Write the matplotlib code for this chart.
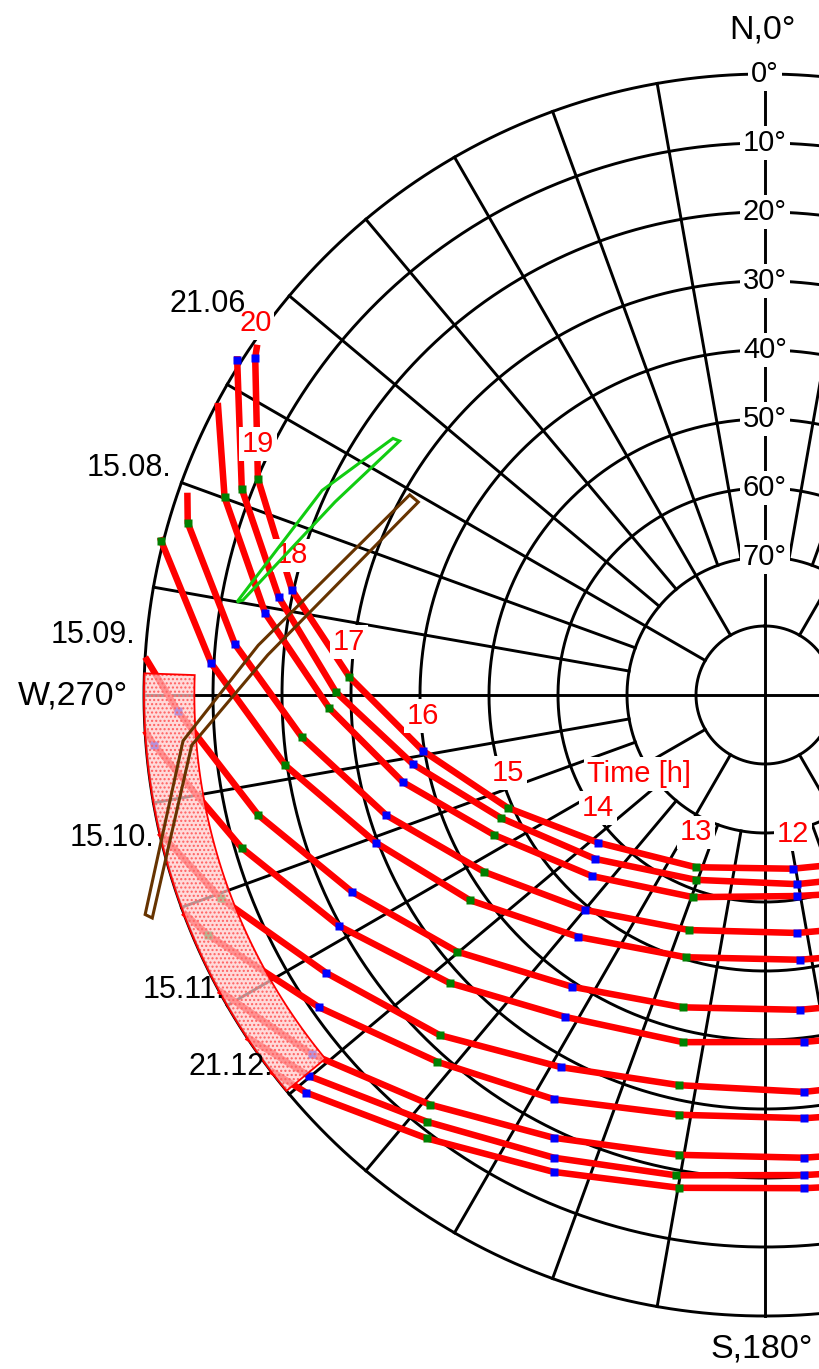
import numpy as np
import matplotlib
matplotlib.use('Agg')
import matplotlib.pyplot as plt

plt.rcParams['font.family'] = ['Liberation Sans', 'DejaVu Sans']

nan = np.nan
# full hours on the sun paths (11 h lies outside the visible part)
hours = [11, 12, 13, 14, 15, 16, 17, 18, 19, 20]

# sun azimuth (deg from N, clockwise) and altitude (deg) at each full hour
az_2106 = [142.1, 170.9, 201.9, 228.5, 246.3, 260.7, 272.5, 282.5, 293.1, 303.5]
alt_2106 = [59.9, 64.5, 63.1, 57.7, 49.3, 39.8, 29.7, 19.8, 10.1, 1.4]
az_1507 = [144.2, 170.4, 200.5, 226.0, 245.0, 258.9, 270.4, 281.4, 291.5, 302.4]
alt_1507 = [58.0, 62.2, 61.4, 55.8, 47.8, 38.0, 27.8, 18.1, 8.5, -0.6]
az_1505 = [145.9, 171.0, 199.6, 223.7, 242.7, 256.5, 268.3, 279.3, 290.1, nan]
alt_1505 = [55.8, 60.5, 58.9, 53.7, 45.8, 36.0, 26.8, 16.6, 6.6, nan]
az_1508 = [148.9, 172.3, 197.9, 219.9, 237.8, 252.4, 264.8, 275.5, 286.6, nan]
alt_1508 = [51.3, 55.2, 54.2, 49.4, 41.9, 32.4, 22.6, 12.8, 2.7, nan]
az_1504 = [150.7, 172.5, 196.8, 217.7, 235.2, 249.2, 261.7, 273.3, 284.3, nan]
alt_1504 = [47.5, 51.3, 50.3, 45.7, 37.9, 29.7, 19.7, 9.6, -0.3, nan]
az_1509 = [154.0, 173.7, 194.7, 213.5, 230.2, 244.5, 256.7, 268.4, nan, nan]
alt_1509 = [40.9, 44.1, 43.2, 39.3, 31.9, 23.7, 14.5, 4.9, nan, nan]
az_1503 = [155.6, 173.6, 193.3, 211.8, 227.6, 241.5, 253.7, 265.3, nan, nan]
alt_1503 = [36.4, 39.4, 38.3, 35.1, 28.1, 19.8, 11.0, 1.2, nan, nan]
az_1510 = [157.8, 174.4, 192.4, 208.7, 223.7, 237.7, 249.5, nan, nan, nan]
alt_1510 = [29.9, 32.2, 32.1, 28.5, 21.8, 14.7, 5.8, nan, nan, nan]
az_1502 = [158.8, 174.7, 191.6, 207.6, 221.8, 235.0, 246.7, nan, nan, nan]
alt_1502 = [25.5, 28.4, 27.9, 23.9, 18.7, 11.1, 2.1, nan, nan, nan]
az_1511 = [160.5, 175.2, 190.6, 205.5, 219.3, 231.6, nan, nan, nan, nan]
alt_1511 = [20.2, 22.7, 22.2, 18.9, 13.3, 6.2, nan, nan, nan, nan]
az_1501 = [161.1, 175.4, 190.5, 204.5, 218.4, 230.1, nan, nan, nan, nan]
alt_1501 = [17.5, 20.2, 19.2, 16.3, 11.1, 3.9, nan, nan, nan, nan]
az_2112 = [161.7, 175.5, 189.9, 203.9, 217.3, 229.1, nan, nan, nan, nan]
alt_2112 = [15.6, 18.3, 17.5, 14.4, 9.2, 2.0, nan, nan, nan, nan]

dates = ['21.06', '15.07', '15.05', '15.08', '15.04', '15.09',
         '15.03', '15.10', '15.02', '15.11', '15.01', '21.12']
paths_az = [az_2106, az_1507, az_1505, az_1508, az_1504, az_1509,
            az_1503, az_1510, az_1502, az_1511, az_1501, az_2112]
paths_alt = [alt_2106, alt_1507, alt_1505, alt_1508, alt_1504, alt_1509,
             alt_1503, alt_1510, alt_1502, alt_1511, alt_1501, alt_2112]
# end of each path at sunset
set_az = [304.6, 302.7, 298.1, 289.3, 284.6, 273.5, 266.7, 257.2, 249.5, 241.6, 236.6, 232.8]
set_alt = [0.6, -0.9, 0.1, 1.3, -0.6, 0.0, 0.0, 0.0, 0.0, 0.0, 0.0, 0.0]

date_labels = ['21.06', '15.08.', '15.09.', '15.10.', '15.11.', '21.12.']
date_label_px = [(246, 312), (171, 476), (135, 643), (154, 846), (225, 998), (273, 1075)]

ring_alt = [0, 10, 20, 30, 40, 50, 60, 70, 80]
alt_ticks = [0, 10, 20, 30, 40, 50, 60, 70]

# horizon obstruction (shaded), brown and green outlines
shade_az = [230.4, 272.0]
shade_alt = [0.0, 7.3]
brown_az = [250.5, 265.5, 275.6, 299.4, 299.1, 274.6, 265.0, 250.0]
brown_alt = [-5.3, 5.4, 16.2, 30.9, 32.5, 17.7, 6.6, -4.5]
green_az = [280.0, 294.8, 304.6, 304.8, 294.2, 280.3]
green_alt = [12.3, 19.3, 24.5, 25.5, 21.7, 13.1]

W, H = 819, 1369
cx, cy, R = 765, 695, 621

fig = plt.figure(figsize=(W / 100, H / 100), dpi=100)
ax = fig.add_axes([(cx - R) / W, (H - cy - R) / H, 2 * R / W, 2 * R / H],
                  projection='polar')
ax.set_theta_zero_location('N')
ax.set_theta_direction(-1)
ax.grid(False)
ax.set_xticks([])
ax.set_yticks([])
ax.spines['polar'].set_visible(False)
ax.patch.set_visible(False)


def px(x, y):
    return x / W, 1 - y / H


# grid: altitude rings, azimuth spokes (10 deg spokes stop at 70 deg, 30 deg ones at 80 deg)
t = np.linspace(0, 2 * np.pi, 1441)
for a in ring_alt:
    ax.plot(t, np.full_like(t, 90 - a), color='k', lw=2.1, clip_on=False, zorder=1)
for a in range(0, 360, 10):
    if a % 90 == 0:
        r0 = 0
    elif a % 30 == 0:
        r0 = 10
    else:
        r0 = 20
    ax.plot([np.radians(a)] * 2, [r0, 90], color='k', lw=2.1, clip_on=False, zorder=1)

for a in alt_ticks:
    ax.text(0, 90 - a, f'{a}°', ha='center', va='center', fontsize=21, zorder=3,
            bbox=dict(boxstyle='square,pad=0.1', fc='white', ec='none'))

# sun paths
for az, alt, eaz, ealt in zip(paths_az, paths_alt, set_az, set_alt):
    th = np.radians(np.array(az + [eaz]))
    r = 90 - np.array(alt + [ealt])
    ok = ~np.isnan(th)
    ax.plot(th[ok], r[ok], color='#ff0000', lw=4.7, solid_capstyle='butt',
            solid_joinstyle='miter', clip_on=False, zorder=4)
    for h, a, e in zip(hours, az, alt):
        if h < 12 or np.isnan(a):
            continue
        c = '#0000ff' if h % 2 == 0 else '#008000'
        ax.plot(np.radians(a), 90 - e, marker='s', ms=5.5, color=c, mec='none',
                clip_on=False, zorder=5)

# hour labels above the 21.06 path
for h, a, e in zip(hours, az_2106, alt_2106):
    if h < 12:
        continue
    ax.annotate(str(h), (np.radians(a), 90 - e), xytext=(0, 25), textcoords='offset points',
                ha='center', va='center', fontsize=21, color='#ff0000', zorder=6,
                bbox=dict(boxstyle='square,pad=0.1', fc='white', ec='none'),
                annotation_clip=False)
fig.text(*px(639, 774), 'Time [h]', ha='center', va='center', fontsize=21, color='#ff0000',
         zorder=6, bbox=dict(boxstyle='square,pad=0.1', fc='white', ec='none'))

for lab, (x, y) in zip(date_labels, date_label_px):
    fig.text(*px(x, y), lab, ha='right', va='baseline', fontsize=22, zorder=6)

# shaded obstruction
th1 = np.linspace(np.radians(shade_az[0]), np.radians(shade_az[1]), 100)
sh_t = np.concatenate([th1, th1[::-1]])
sh_r = np.concatenate([np.full(100, 90 - shade_alt[0]), np.full(100, 90 - shade_alt[1])])
ax.fill(sh_t, sh_r, facecolor=(1.0, 0.80, 0.80, 0.72), edgecolor='none', zorder=7,
        clip_on=False)
ax.fill(sh_t, sh_r, facecolor='none', edgecolor='#ff6060', hatch='....', lw=0, zorder=7,
        clip_on=False)
ax.fill(sh_t, sh_r, facecolor='none', edgecolor='#ff0000', lw=1.3, zorder=7, clip_on=False)

ax.fill(np.radians(brown_az), 90 - np.array(brown_alt), facecolor='none',
        edgecolor='#663300', lw=2.2, zorder=8, clip_on=False)
ax.fill(np.radians(green_az), 90 - np.array(green_alt), facecolor='none',
        edgecolor='#11cc11', lw=2.2, zorder=8, clip_on=False)

ax.set_ylim(0, 90)

fig.text(*px(762, 30), 'N,0°', ha='center', va='center', fontsize=24.5)
fig.text(*px(762, 1349), 'S,180°', ha='center', va='center', fontsize=24.5)
fig.text(*px(73, 696), 'W,270°', ha='center', va='center', fontsize=24.5)

fig.savefig('out.png', dpi=100)
